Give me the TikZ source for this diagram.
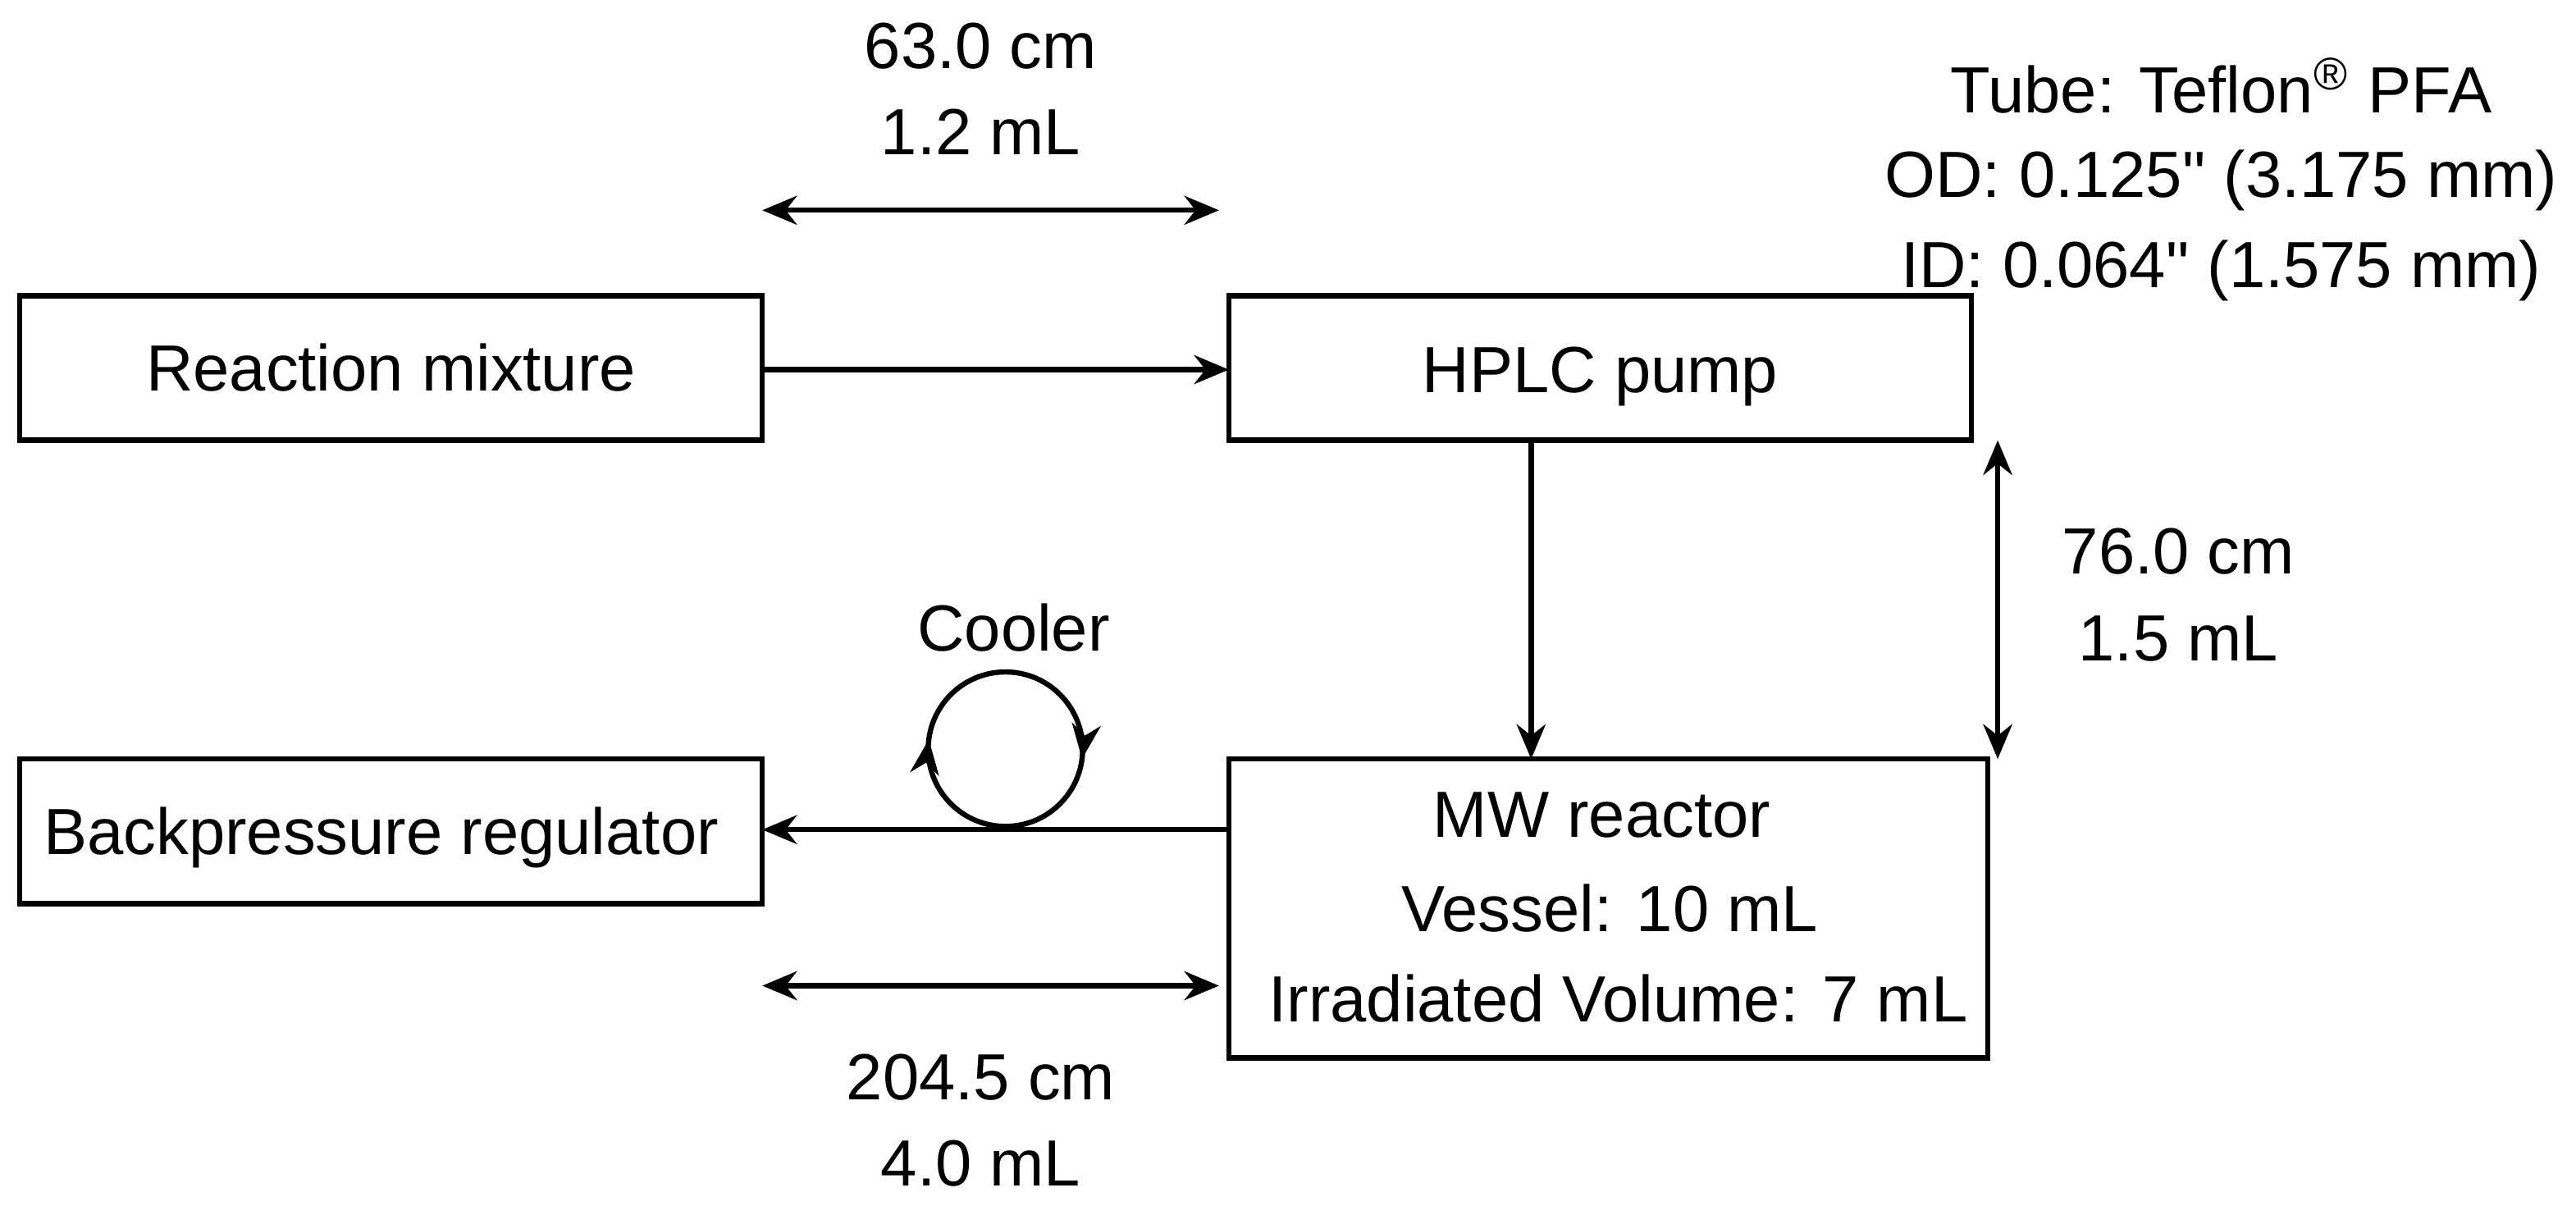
\documentclass[tikz,border=0pt]{standalone}
\usepackage{fontspec}
\setmainfont{Liberation Sans}[Ligatures=TeXOff]
\usetikzlibrary{arrows.meta,decorations.markings}
\begin{document}
\begin{tikzpicture}[x=0.01cm,y=-0.01cm,
  box/.style={draw,line width=0.9pt},
  ln/.style={line width=0.9pt},
  arr/.style={ln,-{Stealth[length=6pt,width=5pt]}},
  darr/.style={ln,{Stealth[length=6pt,width=5pt]}-{Stealth[length=6pt,width=5pt]}},
  lab/.style={font=\fontsize{11.3}{13}\selectfont,align=center}]
\useasboundingbox (0,0) rectangle (1568,734);
\draw[box] (12,180) rectangle (464,268); \node[lab] (rm) at (238,224) {Reaction mixture};
\coordinate (rmE) at (464,225);
\draw[box] (748,180) rectangle (1200,268); \node[lab] (hp) at (974,229) {HPLC pump};
\coordinate (hpW) at (748,225); \coordinate (hpS) at (932,268);
\draw[box] (12,462) rectangle (464,550); \node[lab] (bp) at (232,510) {Backpressure regulator};
\coordinate (bpE) at (464,505);
\draw[box] (748,462) rectangle (1210,644);
\node[lab] (mw) at (975,496) {MW reactor};
\node[lab] (ve) at (980,553) {Vessel: 10 mL};
\node[lab] (ir) at (985,608) {Irradiated Volume: 7 mL};
\coordinate (mwN) at (932,462); \coordinate (mwW) at (748,505);
\draw[arr] (rmE) -- (hpW);
\draw[arr] (hpS) -- (mwN);
\draw[arr] (mwW) -- (bpE);
\coordinate (cb) at (612,503);
\draw[ln,postaction={decorate},decoration={markings,
  mark=at position 0.27 with {\arrow{Stealth[length=6pt,width=5pt]}},
  mark=at position 0.77 with {\arrow{Stealth[length=6pt,width=5pt]}}}]
  (cb) arc[start angle=90,end angle=450,radius=47];
\node[lab] (co) at (617,382) {Cooler};
\coordinate (t1) at (464,128); \coordinate (t2) at (742,128);
\draw[darr] (t1) -- (t2);
\node[lab] (tl) at (597,54) {63.0 cm\\[2pt]1.2 mL};
\coordinate (b1) at (464,600); \coordinate (b2) at (742,600);
\draw[darr] (b1) -- (b2);
\node[lab] (bl) at (597,682) {204.5 cm\\[2pt]4.0 mL};
\coordinate (v1) at (1216,268); \coordinate (v2) at (1216,462);
\draw[darr] (v1) -- (v2);
\node[lab] (vl) at (1326,362) {76.0 cm\\[2pt]1.5 mL};
\node[lab] (tu) at (1352,52) {Tube: Teflon\textsuperscript{®} PFA};
\node[lab] (od) at (1352,110) {OD: 0.125" (3.175 mm)};
\node[lab] (id) at (1352,165) {ID: 0.064" (1.575 mm)};
\end{tikzpicture}
\end{document}
